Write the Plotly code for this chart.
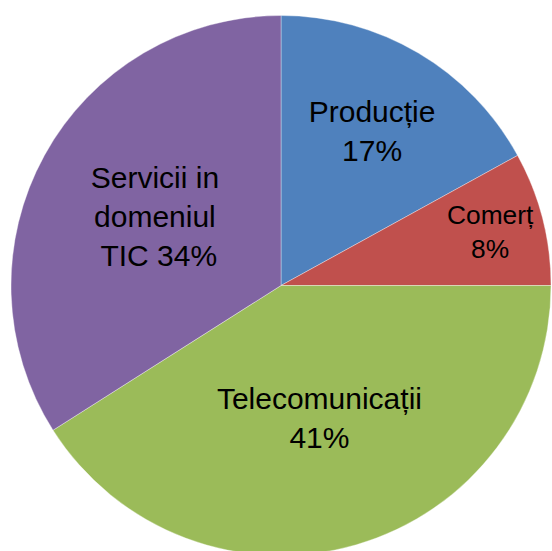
import plotly.graph_objects as go

categories = ["Producție", "Comerț", "Telecomunicații", "Servicii in domeniul TIC"]
values = [17, 8, 41, 34]
labels_text = ["Producție<br>17%", "Comerț<br>8%", "Telecomunicații<br>41%", "Servicii in<br>domeniul<br> TIC 34%"]
colors = ["#4F81BD", "#C0504D", "#9BBB59", "#8064A2"]

fig = go.Figure(go.Pie(
    labels=categories,
    values=values,
    text=labels_text,
    textinfo="text",
    textposition="inside",
    insidetextorientation="horizontal",
    sort=False,
    direction="clockwise",
    rotation=0,
    marker=dict(colors=colors, line=dict(color="rgba(255,255,255,0.6)", width=0.6)),
    textfont=dict(family="Liberation Sans, Arial, sans-serif", size=30, color="black"),
    hoverinfo="label+percent",
))

fig.update_layout(
    width=551, height=556,
    margin=dict(l=11, r=0, t=15, b=0),
    showlegend=False,
    paper_bgcolor="white",
    plot_bgcolor="white",
)

fig.write_html("out.html", config={"displayModeBar": False},
               post_script="document.body.style.margin='0';document.body.style.overflow='hidden';")
